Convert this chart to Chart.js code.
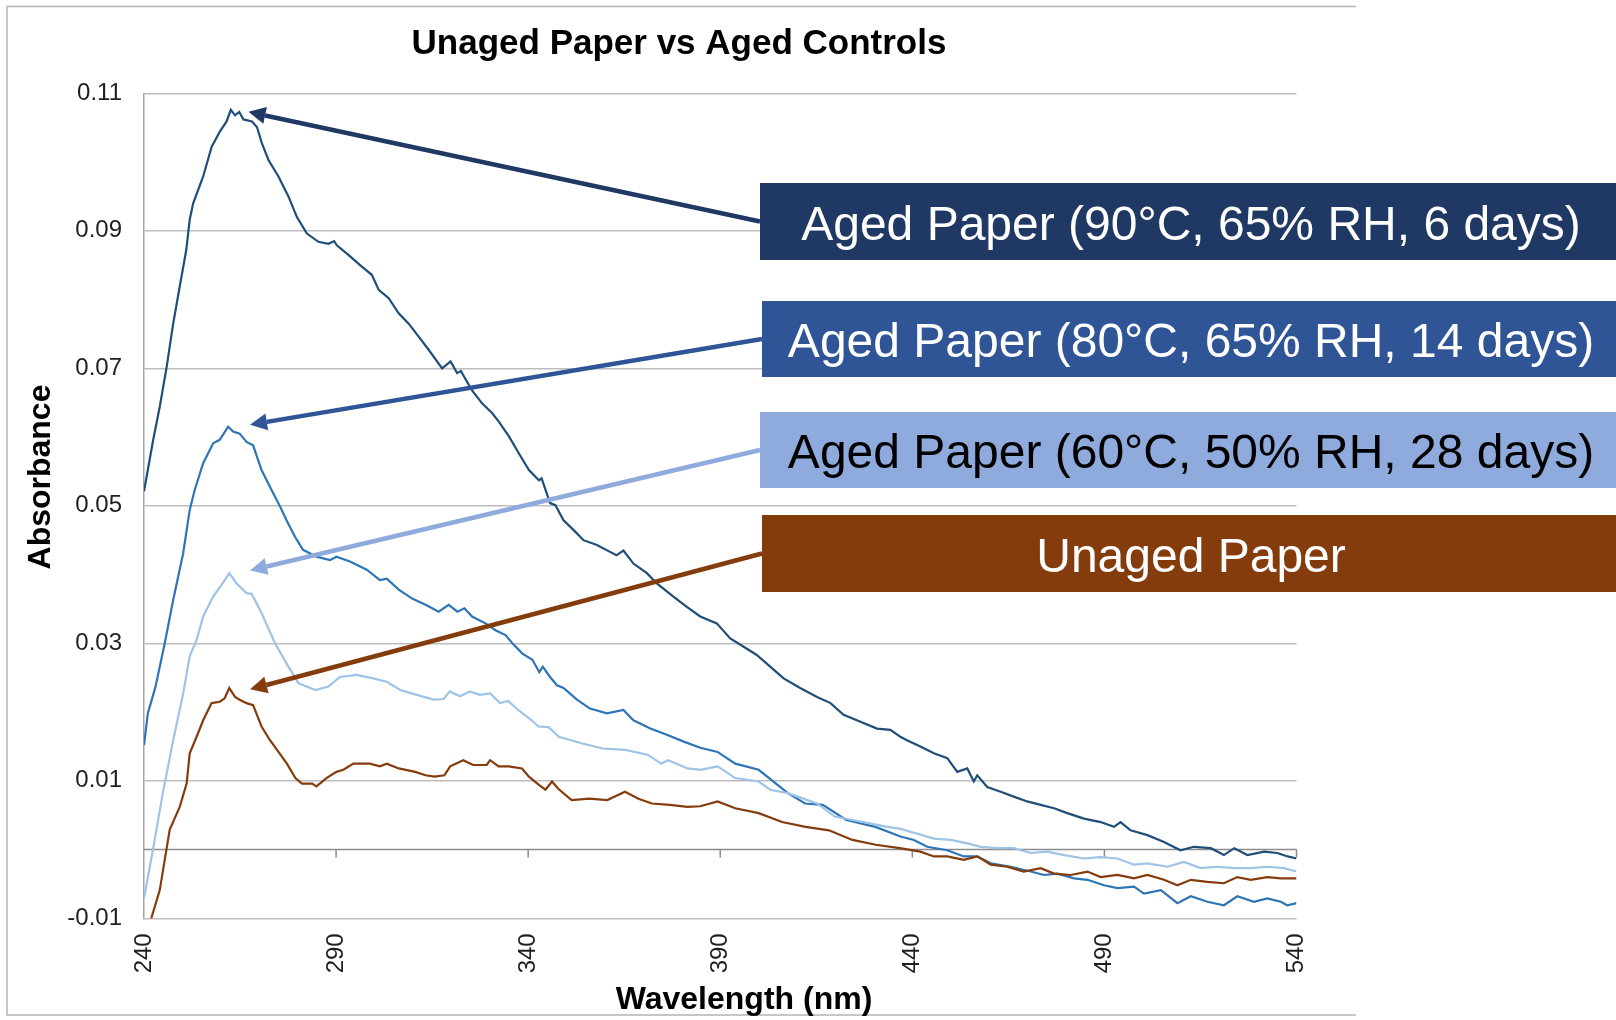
<!DOCTYPE html>
<html>
<head>
<meta charset="utf-8">
<script src="https://cdn.jsdelivr.net/npm/chart.js@4.4.0/dist/chart.umd.min.js"></script>
<style>
  html, body { margin: 0; padding: 0; background: #ffffff; }
  #wrap { width: 1616px; height: 1020px; }
</style>
</head>
<body>
<div id="wrap"><canvas id="c" width="1616" height="1020"></canvas></div>
<script>
// ---------------- DATA ----------------
const chartTitle = 'Unaged Paper vs Aged Controls';
const xAxisTitle = 'Wavelength (nm)';
const yAxisTitle = 'Absorbance';
const xTicks = [240, 290, 340, 390, 440, 490, 540];
const yTicks = [-0.01, 0.01, 0.03, 0.05, 0.07, 0.09, 0.11];

const seriesNames = [
  'Aged Paper (90°C, 65% RH, 6 days)',
  'Aged Paper (80°C, 65% RH, 14 days)',
  'Aged Paper (60°C, 50% RH, 28 days)',
  'Unaged Paper'
];

// Aged 90°C
const wlA = [240,242.4,244.1,245.9,247.6,249.3,251,251.9,252.8,255.4,257.6,259.7,261.5,262.6,263.7,264.8,265.9,268.1,269.4,270.7,272.4,275,277.6,279.8,282.4,285.4,288,289.5,290.2,293.2,296.7,299.3,301.1,303.7,306.3,308.9,311.5,314.1,317.6,319.8,321.5,322.5,323.3,325.4,328,330.6,332.4,335,337.6,340.2,342.8,343.5,345.7,347.1,349.2,351.8,354.4,357.9,361.3,363,364.8,367.4,370.9,373.5,377.8,381.3,384.8,389.1,392.6,396.1,399.5,403,406.5,410.8,415.2,418.7,422.1,426.5,430.8,434.3,436.9,438.6,442.1,445.6,449.1,451.7,454.3,456,456.9,459.5,463,466.4,469.9,473.4,476.9,480.3,484.7,489,492.5,494.2,496.8,501.2,505.5,509.8,513.3,517.7,521.1,523.8,527.2,531.6,535,537.7,540];
const absA = [0.0521,0.0596,0.0644,0.0702,0.0765,0.0819,0.0872,0.0916,0.0940,0.0979,0.1022,0.1044,0.1059,0.1076,0.1068,0.1073,0.1062,0.1059,0.1051,0.1027,0.1003,0.0979,0.0950,0.0920,0.0896,0.0884,0.0881,0.0885,0.0879,0.0865,0.0848,0.0836,0.0814,0.0802,0.0780,0.0765,0.0746,0.0727,0.0700,0.0710,0.0693,0.0696,0.0688,0.0668,0.0649,0.0635,0.0622,0.0601,0.0576,0.0552,0.0537,0.0540,0.0504,0.0501,0.0479,0.0465,0.0450,0.0443,0.0433,0.0428,0.0435,0.0416,0.0402,0.0387,0.0368,0.0353,0.0339,0.0329,0.0307,0.0295,0.0283,0.0266,0.0249,0.0235,0.0222,0.0213,0.0196,0.0186,0.0176,0.0174,0.0164,0.0159,0.0150,0.0140,0.0133,0.0113,0.0118,0.0099,0.0108,0.0091,0.0084,0.0077,0.0070,0.0065,0.0060,0.0053,0.0045,0.0040,0.0033,0.0040,0.0028,0.0021,0.0011,-0.0001,0.0004,0.0002,-0.0008,0.0002,-0.0008,-0.0003,-0.0005,-0.0010,-0.0013];

// Aged 80°C
const wlB = [240,241,243,245.4,247.6,250.2,251.9,253.2,255.4,258,259.7,261.9,263.2,264.9,266.7,268.4,270.6,273.2,275.6,277.1,279.3,281.4,284.9,288.4,290.1,293.6,298,301.4,303.2,306.3,309.8,313.3,316.7,319.3,321.6,323.4,325.4,328.9,331.5,334.1,335.9,338.5,341.1,342.9,343.8,345.7,347.5,349.2,352.7,356.1,360.5,364.8,367.4,371.8,376.1,380.5,384.8,389.3,393.9,400,407.6,412.1,416.7,422.8,430.4,436.9,440.4,443.9,449.1,453.4,456.9,460.4,465.6,470.8,474.3,477.8,482.1,485.6,489.9,493.4,497.7,500.3,504.7,509,512.5,516.8,521.1,524.6,528.9,532.4,535.9,537.6,540];
const absB = [0.0152,0.0198,0.0237,0.0300,0.0363,0.0431,0.0494,0.0523,0.0562,0.0591,0.0596,0.0615,0.0608,0.0605,0.0593,0.0588,0.0552,0.0523,0.0497,0.0479,0.0455,0.0436,0.0426,0.0421,0.0426,0.0419,0.0407,0.0392,0.0394,0.0378,0.0365,0.0356,0.0346,0.0356,0.0346,0.0351,0.0339,0.0329,0.0319,0.0312,0.0300,0.0285,0.0276,0.0258,0.0266,0.0251,0.0239,0.0235,0.0218,0.0205,0.0198,0.0203,0.0188,0.0176,0.0167,0.0157,0.0148,0.0142,0.0125,0.0116,0.0082,0.0067,0.0065,0.0043,0.0033,0.0019,0.0014,0.0004,-0.0001,-0.0010,-0.0010,-0.0020,-0.0025,-0.0032,-0.0037,-0.0035,-0.0042,-0.0044,-0.0052,-0.0056,-0.0054,-0.0064,-0.0059,-0.0078,-0.0068,-0.0076,-0.0081,-0.0068,-0.0076,-0.0071,-0.0076,-0.0081,-0.0078];

// Aged 60°C
const wlC = [240,242.3,244.9,247.6,250.2,251.9,253.7,255.4,258,260.2,262.2,264.1,266.7,268,270.6,274.1,277.6,280.2,284.6,288,291,295.3,299.7,303.2,306.7,311,315.4,318,319.6,322.2,324.8,327.4,330.1,332.7,334.8,337.4,340.9,342.7,345.3,348,353.6,359.4,365.3,371.1,374.6,376.5,381.5,384.8,389.3,393.9,400,403,407.6,415.2,419.8,424.4,428.9,433.5,437,441.3,445.6,450,454.3,457.8,462.1,466.4,470.8,475.1,479.5,484.7,489,493.4,497.7,501.2,506.4,510.7,515,519.4,523.7,528.1,532.4,536.8,540];
const absC = [-0.0071,-0.0001,0.0082,0.0159,0.0227,0.0281,0.0305,0.0339,0.0368,0.0385,0.0402,0.0387,0.0373,0.0372,0.0344,0.0300,0.0266,0.0242,0.0232,0.0237,0.0251,0.0254,0.0249,0.0244,0.0232,0.0225,0.0218,0.0219,0.0230,0.0223,0.0230,0.0225,0.0227,0.0213,0.0216,0.0203,0.0188,0.0179,0.0178,0.0164,0.0155,0.0147,0.0145,0.0138,0.0125,0.0130,0.0118,0.0116,0.0121,0.0104,0.0099,0.0087,0.0082,0.0067,0.0048,0.0043,0.0038,0.0033,0.0030,0.0023,0.0016,0.0014,0.0009,0.0004,0.0002,0.0002,-0.0005,-0.0003,-0.0008,-0.0013,-0.0011,-0.0013,-0.0022,-0.0020,-0.0025,-0.0018,-0.0027,-0.0025,-0.0027,-0.0027,-0.0025,-0.0027,-0.0032];

// Unaged
const wlD = [240,241.9,244.1,246.7,249.3,251.1,251.9,253.7,255.4,257.6,259.7,261,262.2,263.7,264.9,266.7,268.4,270.6,272.8,275,277.2,279.4,281.1,283.8,284.9,287.5,290.1,291.9,294.5,298.8,301.4,303.2,306.3,310.6,313.3,315.6,318.2,319.7,323.1,325.7,329.2,330.1,332.3,334.9,338.4,340.2,342.8,344.5,346.2,347.9,351.3,355.9,360.6,365.2,368.7,372.2,376.9,381.5,384.8,389.3,393.9,400,406.1,412.2,418.3,424.4,430.5,436.7,442.1,445.6,449.1,453.4,456.9,460.4,464.7,469,473.4,476.9,481.2,485.6,489,493.4,497.7,501.2,505.5,509,512.5,516.8,521.1,524.6,528.1,532.4,535.9,540];
const absD = [-0.0135,-0.0100,-0.0059,0.0029,0.0062,0.0096,0.0140,0.0164,0.0188,0.0213,0.0215,0.0220,0.0235,0.0222,0.0218,0.0213,0.0210,0.0179,0.0159,0.0142,0.0125,0.0104,0.0096,0.0096,0.0092,0.0104,0.0113,0.0116,0.0125,0.0125,0.0121,0.0125,0.0118,0.0113,0.0108,0.0106,0.0108,0.0121,0.0130,0.0123,0.0123,0.0130,0.0121,0.0121,0.0118,0.0106,0.0094,0.0087,0.0099,0.0088,0.0072,0.0074,0.0072,0.0084,0.0074,0.0067,0.0065,0.0062,0.0063,0.0070,0.0060,0.0053,0.0040,0.0033,0.0028,0.0014,0.0007,0.0002,-0.0003,-0.0010,-0.0010,-0.0015,-0.0010,-0.0022,-0.0025,-0.0032,-0.0027,-0.0035,-0.0037,-0.0032,-0.0040,-0.0037,-0.0042,-0.0037,-0.0044,-0.0052,-0.0044,-0.0047,-0.0049,-0.0040,-0.0044,-0.0040,-0.0042,-0.0042];

// arrow tips (data space, near each peak)
const tipWl  = [267.2, 267.6, 267.6, 267.6];
const tipAbs = [0.1073, 0.0618, 0.0406, 0.0233];

// ---------------- STYLE ----------------
const lineColors  = ['#1F4E79', '#2E75B6', '#9DC3E6', '#843C0C'];
const boxColors   = ['#203864', '#2F5597', '#8FAADC', '#843C0C'];
const boxText     = ['#FFFFFF', '#FFFFFF', '#000000', '#FFFFFF'];
const boxRects    = [[760, 183, 856, 77], [762, 301, 854, 76], [760, 412, 856, 76], [762, 515, 854, 77]];
const FONT = "'Liberation Sans', Arial, Helvetica, sans-serif";

function pts(xs, ys) { return xs.map((x, i) => ({x: x, y: ys[i]})); }
const seriesX = [wlA, wlB, wlC, wlD];
const seriesY = [absA, absB, absC, absD];

const datasets = seriesNames.map((n, i) => ({
  label: n,
  data: pts(seriesX[i], seriesY[i]),
  borderColor: lineColors[i],
  backgroundColor: lineColors[i],
  borderWidth: 2.2,
  pointRadius: 0,
  tension: 0,
  fill: false
})).reverse();

const framePlugin = {
  id: 'frame',
  beforeDraw(chart) {
    const ctx = chart.ctx;
    ctx.save();
    ctx.fillStyle = '#fff';
    ctx.fillRect(0, 0, chart.width, chart.height);
    ctx.strokeStyle = '#B4B4B4';
    ctx.lineWidth = 1.5;
    ctx.beginPath();
    ctx.moveTo(1356, 6.5); ctx.lineTo(7, 6.5); ctx.lineTo(7, 1015); ctx.lineTo(1356, 1015);
    ctx.stroke();
    ctx.restore();
  },
  afterLayout(chart) {
    const tb = chart.titleBlock;
    if (tb) {
      const shift = 679 - (tb.left + tb.right) / 2;
      tb.left += shift; tb.right += shift;
    }
  }
};

const zeroAxisPlugin = {
  id: 'zeroAxis',
  beforeDatasetsDraw(chart) {
    const {ctx, scales: {x, y}} = chart;
    const y0 = y.getPixelForValue(0);
    ctx.save();
    ctx.strokeStyle = '#8C8C8C';
    ctx.lineWidth = 1.5;
    ctx.beginPath();
    ctx.moveTo(x.left, y0); ctx.lineTo(x.right, y0);
    xTicks.forEach(v => {
      if (v === xTicks[0]) return;
      const px = x.getPixelForValue(v);
      ctx.moveTo(px, y0); ctx.lineTo(px, y0 + 8);
    });
    ctx.stroke();
    ctx.restore();
  }
};

// axis titles, positioned off-centre like the original
const axisTitlePlugin = {
  id: 'axisTitles',
  afterDraw(chart) {
    const ctx = chart.ctx;
    ctx.save();
    ctx.fillStyle = '#000000';
    ctx.font = 'bold 32px ' + FONT;
    ctx.textAlign = 'center';
    ctx.textBaseline = 'middle';
    ctx.fillText(xAxisTitle, 744, 1000);
    ctx.translate(41, 477);
    ctx.rotate(-Math.PI / 2);
    ctx.fillText(yAxisTitle, 0, 0);
    ctx.restore();
  }
};

const calloutPlugin = {
  id: 'callouts',
  afterDraw(chart) {
    const {ctx, scales: {x, y}} = chart;
    ctx.save();
    for (let i = 0; i < 4; i++) {
      const [bx, by, bw, bh] = boxRects[i];
      const sx = bx, sy = by + bh / 2;
      const tx = x.getPixelForValue(tipWl[i]);
      const ty = y.getPixelForValue(tipAbs[i]);
      const ang = Math.atan2(ty - sy, tx - sx);
      const headLen = 17, headHalf = 8.5;
      const bxh = tx - Math.cos(ang) * headLen, byh = ty - Math.sin(ang) * headLen;
      ctx.strokeStyle = boxColors[i];
      ctx.fillStyle = boxColors[i];
      ctx.lineWidth = 4.5;
      ctx.beginPath();
      ctx.moveTo(sx, sy); ctx.lineTo(bxh, byh);
      ctx.stroke();
      ctx.beginPath();
      ctx.moveTo(tx, ty);
      ctx.lineTo(bxh + Math.sin(ang) * headHalf, byh - Math.cos(ang) * headHalf);
      ctx.lineTo(bxh - Math.sin(ang) * headHalf, byh + Math.cos(ang) * headHalf);
      ctx.closePath();
      ctx.fill();
    }
    for (let i = 0; i < 4; i++) {
      const [bx, by, bw, bh] = boxRects[i];
      ctx.fillStyle = boxColors[i];
      ctx.fillRect(bx, by, bw, bh);
      ctx.fillStyle = boxText[i];
      ctx.font = '48px ' + FONT;
      ctx.textAlign = 'center';
      ctx.textBaseline = 'middle';
      ctx.fillText(seriesNames[i], 1191, by + bh / 2 + 5);
    }
    ctx.restore();
  }
};

new Chart(document.getElementById('c'), {
  type: 'line',
  data: { datasets: datasets },
  plugins: [framePlugin, zeroAxisPlugin, axisTitlePlugin, calloutPlugin],
  options: {
    responsive: false,
    animation: false,
    devicePixelRatio: 1,
    layout: { padding: { left: 23, right: 319.5, top: 0, bottom: 2 } },
    plugins: {
      legend: { display: false },
      tooltip: { enabled: false },
      title: {
        display: true,
        text: chartTitle,
        color: '#000000',
        font: { family: FONT, size: 35, weight: 'bold' },
        padding: { top: 23.5, bottom: 27.8 }
      }
    },
    scales: {
      x: {
        type: 'linear',
        min: 240, max: 540,
        afterBuildTicks: s => { s.ticks = xTicks.map(v => ({ value: v })); },
        afterFit: s => { s.height = 99.7; },
        grid: { display: false, drawTicks: false },
        border: { display: false },
        ticks: {
          autoSkip: false, maxRotation: 90, minRotation: 90, padding: 15,
          color: '#1F1F1F', font: { family: FONT, size: 24 },
          callback: v => String(v)
        },
        title: { display: false, text: xAxisTitle }
      },
      y: {
        type: 'linear',
        min: -0.01, max: 0.11,
        afterBuildTicks: s => { s.ticks = yTicks.map(v => ({ value: v })); },
        afterFit: s => { s.width = 121; },
        grid: { color: '#BDBDBD', lineWidth: 1.5, drawTicks: false },
        border: { display: true, color: '#A6A6A6', width: 1.5 },
        ticks: {
          padding: 22, color: '#1F1F1F', font: { family: FONT, size: 24 },
          callback: v => v.toFixed(2)
        },
        title: { display: false, text: yAxisTitle }
      }
    }
  }
});
</script>
</body>
</html>
